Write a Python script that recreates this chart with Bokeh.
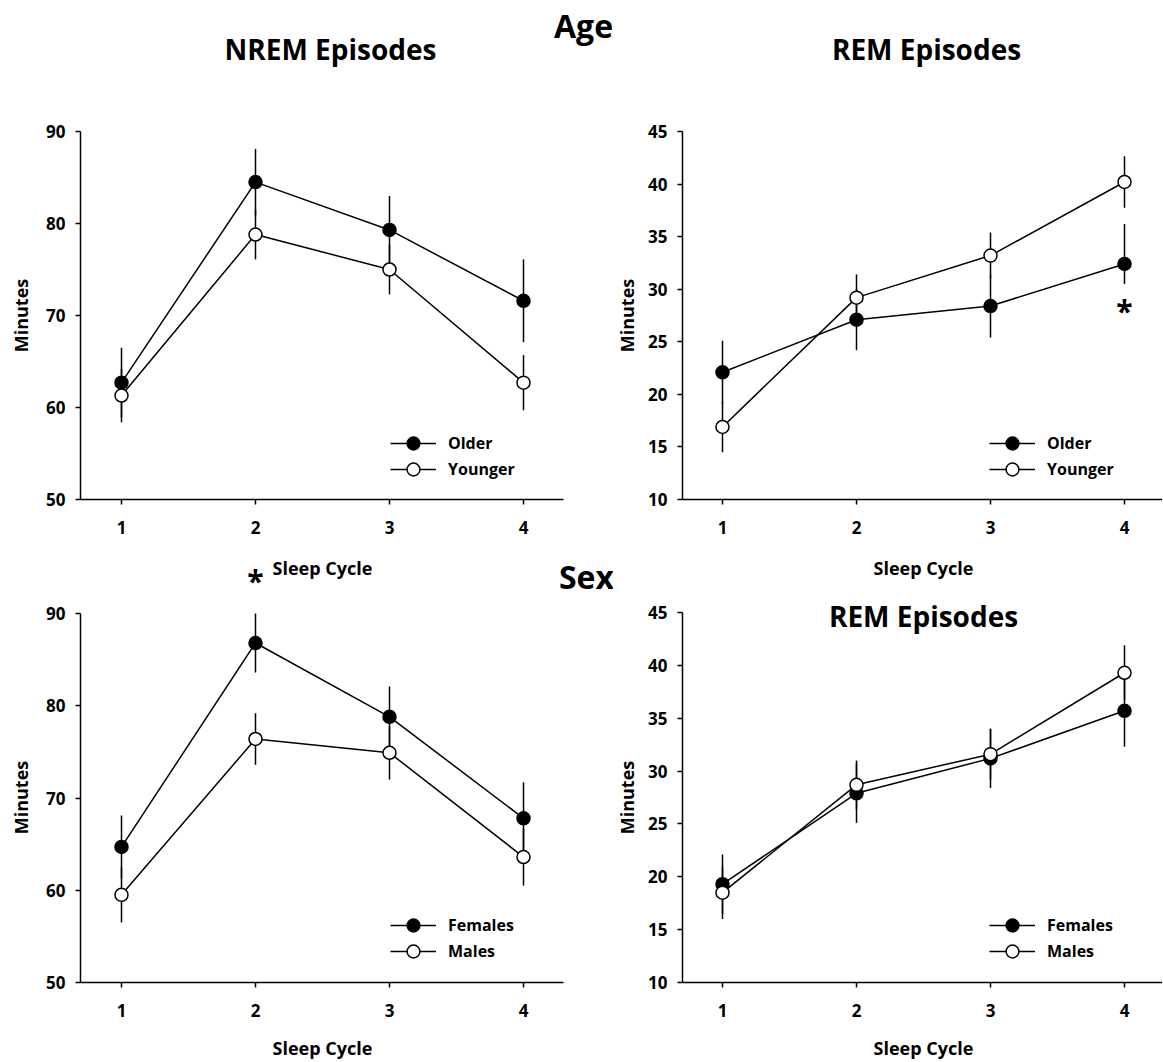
import math
from bokeh.plotting import figure
from bokeh.models import ColumnDataSource, Label, Legend, LegendItem, FixedTicker, Range1d
from bokeh.layouts import column, row
from bokeh.embed import file_html
from bokeh.resources import INLINE

FONT = "Open Sans"

# ---------------- data ----------------
cycles = [1, 2, 3, 4]
x_label = "Sleep Cycle"
y_label = "Minutes"

# Age, NREM episodes
nrem_older = [62.7, 84.5, 79.3, 71.6]
nrem_older_se = [3.8, 3.6, 3.7, 4.5]
nrem_younger = [61.3, 78.8, 75.0, 62.7]
nrem_younger_se = [2.9, 2.7, 2.7, 3.0]

# Age, REM episodes
rem_older = [22.1, 27.1, 28.4, 32.4]
rem_older_se_up = [3.0, 2.9, 3.0, 3.8]
rem_older_se_dn = [3.0, 2.9, 3.0, 1.9]
rem_younger = [16.9, 29.2, 33.2, 40.2]
rem_younger_se = [2.4, 2.2, 2.2, 2.45]

# Sex, NREM episodes
nrem_females = [64.7, 86.8, 78.8, 67.8]
nrem_females_se = [3.4, 3.2, 3.3, 3.9]
nrem_males = [59.5, 76.4, 74.9, 63.6]
nrem_males_se = [3.0, 2.8, 2.9, 3.1]

# Sex, REM episodes
rem_females = [19.3, 27.9, 31.2, 35.7]
rem_females_se = [2.8, 2.8, 2.8, 3.4]
rem_males = [18.5, 28.7, 31.6, 39.3]
rem_males_se = [2.5, 2.3, 2.4, 2.6]

nrem_yticks = [50, 60, 70, 80, 90]
rem_yticks = [10, 15, 20, 25, 30, 35, 40, 45]
nrem_bounds = (50, 90)
rem_bounds = (10, 45)


# ---------------- helpers ----------------
class Panel:
    """A figure whose frame fills its whole canvas; axes sit at fixed data locations."""

    def __init__(self, left, top, width, height, xr, yr, yticks, xbounds, ybounds):
        self.left, self.top, self.width, self.height = left, top, width, height
        p = figure(width=width, height=height, x_range=Range1d(*xr), y_range=Range1d(*yr),
                   output_backend="svg", toolbar_location=None,
                   min_border_left=0, min_border_right=0, min_border_top=0, min_border_bottom=0)
        p.outline_line_color = None
        p.grid.visible = False
        p.background_fill_color = "white"
        p.border_fill_color = "white"
        p.xaxis.ticker = FixedTicker(ticks=cycles)
        p.yaxis.ticker = FixedTicker(ticks=yticks)
        p.xaxis.bounds = xbounds
        p.yaxis.bounds = ybounds
        p.xaxis.fixed_location = ybounds[0]
        p.yaxis.fixed_location = xbounds[0]
        for ax in (p.xaxis, p.yaxis):
            ax.axis_line_color = "black"
            ax.axis_line_width = 1.5
            ax.major_tick_line_color = "black"
            ax.major_tick_line_width = 1.5
            ax.major_tick_out = 5
            ax.major_tick_in = 0
            ax.minor_tick_out = 0
            ax.minor_tick_in = 0
            ax.major_label_text_font = FONT
            ax.major_label_text_font_style = "bold"
            ax.major_label_text_font_size = "17px"
            ax.major_label_text_color = "black"
        p.xaxis.major_label_standoff = 16
        p.yaxis.major_label_standoff = 10
        self.p = p

    def text(self, px, py, text, size, angle=0.0):
        # px, py: page pixel position of the text centre
        self.p.add_layout(Label(x=px - self.left, y=self.top + self.height - py,
                                x_units="screen", y_units="screen", text=text, angle=angle,
                                text_font=FONT, text_font_style="bold", text_font_size=size,
                                text_color="black", text_align="center",
                                text_baseline="alphabetic"))

    def legend_item(self, label, renderers, px, py):
        # px: page x of the legend glyph's left end, py: page y of the item centre
        lg = Legend(items=[LegendItem(label=label, renderers=renderers)],
                    location=(px - self.left, self.top + self.height - (py + 16)),
                    glyph_width=46, glyph_height=32, label_height=20, spacing=0,
                    label_standoff=12, padding=0, margin=0,
                    border_line_color=None, background_fill_alpha=0,
                    label_text_font=FONT, label_text_font_style="bold",
                    label_text_font_size="16px", label_text_color="black")
        self.p.add_layout(lg)


def add_pair(panel, y_a, up_a, dn_a, y_b, up_b, dn_b, names, leg_x, leg_y):
    p = panel.p
    src_a = ColumnDataSource(dict(x=cycles, y=y_a,
                                  lo=[v - e for v, e in zip(y_a, dn_a)],
                                  hi=[v + e for v, e in zip(y_a, up_a)]))
    src_b = ColumnDataSource(dict(x=cycles, y=y_b,
                                  lo=[v - e for v, e in zip(y_b, dn_b)],
                                  hi=[v + e for v, e in zip(y_b, up_b)]))
    for s in (src_a, src_b):
        p.segment(x0="x", y0="lo", x1="x", y1="hi", source=s, line_color="black", line_width=1.5)
    ln_a = p.line("x", "y", source=src_a, line_color="black", line_width=1.5)
    ln_b = p.line("x", "y", source=src_b, line_color="black", line_width=1.5)
    sc_a = p.scatter("x", "y", source=src_a, marker="circle", size=13,
                     fill_color="black", line_color="black", line_width=1.5)
    sc_b = p.scatter("x", "y", source=src_b, marker="circle", size=13,
                     fill_color="white", line_color="black", line_width=1.5)
    panel.legend_item(names[0], [ln_a, sc_a], leg_x, leg_y)
    panel.legend_item(names[1], [ln_b, sc_b], leg_x, leg_y + 26)


# ---------------- panels ----------------
L_W, R_W = 613, 549
TL_H, BL_H = 601, 460      # left column split below the "*" and "Sex"
TR_H, BR_H = 592, 469      # right column split above the lower "REM Episodes"
PX_PER_CYCLE = 134.0

# left column: x = 1 at page x 121 ; right column: x = 1 at page x 722
xl0 = 1 - 121 / PX_PER_CYCLE
xr_left = (xl0, xl0 + L_W / PX_PER_CYCLE)
xb_left = (1 - 41 / PX_PER_CYCLE, 4.3)
xr0 = 1 - (722 - L_W) / PX_PER_CYCLE
xr_right = (xr0, xr0 + R_W / PX_PER_CYCLE)
xb_right = (1 - 40 / PX_PER_CYCLE, 4.3)


def yrange(lo, hi, top_px, bottom_px, canvas_top, canvas_h):
    s = (bottom_px - top_px) / (hi - lo)
    return (lo - (canvas_top + canvas_h - bottom_px) / s, hi + (top_px - canvas_top) / s)


tl = Panel(0, 0, L_W, TL_H, xr_left, yrange(50, 90, 131, 499, 0, TL_H),
           nrem_yticks, xb_left, nrem_bounds)
bl = Panel(0, TL_H, L_W, BL_H, xr_left, yrange(50, 90, 613, 982, TL_H, BL_H),
           nrem_yticks, xb_left, nrem_bounds)
tr = Panel(L_W, 0, R_W, TR_H, xr_right, yrange(10, 45, 131, 499, 0, TR_H),
           rem_yticks, xb_right, rem_bounds)
br = Panel(L_W, TR_H, R_W, BR_H, xr_right, yrange(10, 45, 612, 982, TR_H, BR_H),
           rem_yticks, xb_right, rem_bounds)

add_pair(tl, nrem_older, nrem_older_se, nrem_older_se,
         nrem_younger, nrem_younger_se, nrem_younger_se, ("Older", "Younger"), 390, 443)
add_pair(tr, rem_older, rem_older_se_up, rem_older_se_dn,
         rem_younger, rem_younger_se, rem_younger_se, ("Older", "Younger"), 989, 443)
add_pair(bl, nrem_females, nrem_females_se, nrem_females_se,
         nrem_males, nrem_males_se, nrem_males_se, ("Females", "Males"), 390, 925)
add_pair(br, rem_females, rem_females_se, rem_females_se,
         rem_males, rem_males_se, rem_males_se, ("Females", "Males"), 989, 925)

# axis titles
for pn, xmid, ymid in ((tl, 20, 315), (tr, 626, 315), (bl, 20, 797), (br, 626, 797)):
    pn.text(xmid, ymid, y_label, "18px", angle=math.pi / 2)
for pn, xcap, ycap in ((tl, 322, 567), (tr, 923, 567), (bl, 322, 1047), (br, 923, 1047)):
    pn.text(xcap, ycap, x_label, "18px")

# panel titles and group headings
tl.text(330, 48, "NREM Episodes", "28px")
tr.text(926, 48, "REM Episodes", "28px")
br.text(923, 615, "REM Episodes", "28px")
tl.text(583, 25, "Age", "32px")
tl.text(586, 576, "Sex", "32px")

# significance marks
tl.text(255, 580, "*", "30px")
tr.text(1124, 310, "*", "30px")

layout = row(column(tl.p, bl.p), column(tr.p, br.p))

open("out.html", "w").write(file_html(layout, INLINE))
